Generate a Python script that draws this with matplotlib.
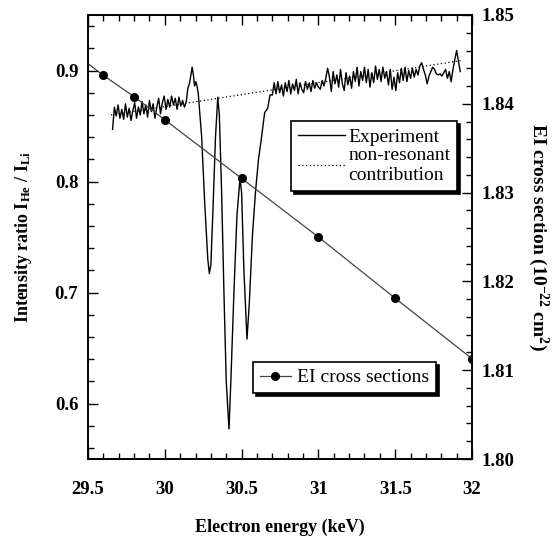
import numpy as np
import matplotlib
matplotlib.use("Agg")
import matplotlib.pyplot as plt
from matplotlib.ticker import MultipleLocator

plt.rcParams['font.family'] = ['Liberation Serif', 'DejaVu Serif']
plt.rcParams['mathtext.fontset'] = 'custom'
plt.rcParams['mathtext.rm'] = 'Liberation Serif:bold'
plt.rcParams['mathtext.it'] = 'Liberation Serif:italic:bold'
plt.rcParams['mathtext.bf'] = 'Liberation Serif:bold'

# ---- Experiment (intensity ratio) ----
exp_energy = [
    29.660, 29.672, 29.684, 29.696, 29.708, 29.720, 29.732, 29.744, 29.756, 29.768,
    29.780, 29.792, 29.804, 29.816, 29.828, 29.840, 29.852, 29.864, 29.876, 29.888,
    29.900, 29.912, 29.924, 29.936, 29.948, 29.960, 29.972, 29.984, 29.996, 30.008,
    30.020, 30.032, 30.044, 30.056, 30.068, 30.080, 30.092, 30.104, 30.116, 30.128,
    30.140, 30.150, 30.160, 30.170, 30.178, 30.186, 30.194, 30.202, 30.210, 30.218,
    30.240, 30.260, 30.280, 30.290, 30.300, 30.315, 30.330, 30.345, 30.355, 30.370,
    30.385, 30.400, 30.418, 30.430, 30.450, 30.470, 30.490, 30.500, 30.515, 30.535,
    30.550, 30.570, 30.590, 30.610, 30.630, 30.650, 30.670, 30.685,
    30.700, 30.712, 30.724, 30.736, 30.748, 30.760, 30.772, 30.784, 30.796, 30.808,
    30.820, 30.832, 30.844, 30.856, 30.868, 30.880, 30.892, 30.904, 30.916, 30.928,
    30.940, 30.952, 30.964, 30.976, 30.988, 31.000, 31.012, 31.024, 31.036, 31.048,
    31.060, 31.072, 31.084, 31.096, 31.108, 31.120, 31.132, 31.144, 31.156, 31.168,
    31.180, 31.192, 31.204, 31.216, 31.228, 31.240, 31.252, 31.264, 31.276, 31.288,
    31.300, 31.312, 31.324, 31.336, 31.348, 31.360, 31.372, 31.384, 31.396, 31.408,
    31.420, 31.432, 31.444, 31.456, 31.468, 31.480, 31.492, 31.504, 31.516, 31.528,
    31.540, 31.552, 31.564, 31.576, 31.588, 31.600, 31.612, 31.624, 31.636, 31.648,
    31.660, 31.672, 31.684, 31.696, 31.708, 31.720, 31.732, 31.744, 31.756, 31.768,
    31.780, 31.792, 31.804, 31.816, 31.828, 31.840, 31.852, 31.864, 31.876, 31.888,
    31.900, 31.912, 31.924,
]
exp_ratio = [
    0.847, 0.867, 0.859, 0.869, 0.857, 0.865, 0.856, 0.870, 0.858, 0.866,
    0.855, 0.864, 0.871, 0.857, 0.867, 0.860, 0.872, 0.861, 0.869, 0.858,
    0.873, 0.863, 0.870, 0.857, 0.867, 0.875, 0.861, 0.871, 0.877, 0.865,
    0.874, 0.867, 0.877, 0.869, 0.875, 0.865, 0.876, 0.868, 0.873, 0.867,
    0.872, 0.884, 0.888, 0.896, 0.903, 0.896, 0.886, 0.890, 0.886, 0.879,
    0.840, 0.780, 0.730, 0.717, 0.725, 0.780, 0.840, 0.876, 0.860, 0.790,
    0.700, 0.620, 0.577, 0.620, 0.700, 0.770, 0.803, 0.790, 0.720, 0.658,
    0.690, 0.750, 0.790, 0.820, 0.840, 0.862, 0.866, 0.878,
    0.878, 0.889, 0.879, 0.890, 0.880, 0.887, 0.877, 0.889, 0.881, 0.891,
    0.879, 0.888, 0.882, 0.892, 0.879, 0.889, 0.883, 0.880, 0.890, 0.883,
    0.889, 0.881, 0.891, 0.884, 0.889, 0.885, 0.883, 0.891, 0.886, 0.893,
    0.902, 0.894, 0.881, 0.899, 0.888, 0.896, 0.885, 0.901, 0.888, 0.882,
    0.898, 0.887, 0.895, 0.884, 0.899, 0.890, 0.903, 0.886, 0.899, 0.891,
    0.903, 0.889, 0.901, 0.885, 0.898, 0.889, 0.904, 0.892, 0.901, 0.890,
    0.903, 0.893, 0.899, 0.887, 0.901, 0.883, 0.894, 0.882, 0.898, 0.889,
    0.902, 0.891, 0.903, 0.890, 0.900, 0.893, 0.902, 0.894, 0.901, 0.896,
    0.904, 0.907, 0.901, 0.896, 0.888, 0.895, 0.899, 0.903, 0.901, 0.897,
    0.896, 0.897, 0.895, 0.898, 0.901, 0.893, 0.899, 0.890, 0.901, 0.910,
    0.918, 0.908, 0.899,
]

# ---- Non-resonant contribution ----
nonres_energy = [29.65, 31.93]
nonres_ratio = [0.860, 0.909]

# ---- EI cross sections ----
ei_energy = [29.6, 29.8, 30.0, 30.5, 31.0, 31.5, 32.0]
ei_xsec = [1.8432, 1.8408, 1.8382, 1.8316, 1.8250, 1.8181, 1.8113]

x_ticks = [29.5, 30, 30.5, 31, 31.5, 32]
x_ticklabels = ['29.5', '30', '30.5', '31', '31.5', '32']
left_ticks = [0.6, 0.7, 0.8, 0.9]
right_ticks = [1.80, 1.81, 1.82, 1.83, 1.84, 1.85]

fig = plt.figure(figsize=(5.54, 5.39), dpi=100)
ax1 = fig.add_axes([88/554, 1-459/539, 384/554, 444/539])
ax2 = ax1.twinx()

ax1.plot(exp_energy, exp_ratio, color='black', lw=1.0, label='Experiment')
ax1.plot(nonres_energy, nonres_ratio, color='black', lw=0.9, ls=(0, (1, 2)),
         label='non-resonant\ncontribution')

# EI line with an extension to the left edge from a linear fit of the points
fit = np.polyfit(ei_energy, ei_xsec, 1)
ext_x = [29.5, ei_energy[0]]
ax2.plot(ext_x, np.polyval(fit, ext_x) + (ei_xsec[0] - np.polyval(fit, ei_energy[0])),
         color='#444444', lw=0.9)
ax2.plot(ei_energy, ei_xsec, color='#444444', lw=0.9, marker='o', markersize=5.5,
         markerfacecolor='black', markeredgecolor='black', label='EI cross sections')

ax1.set_xlim(29.5, 32)
ax1.set_ylim(0.55, 0.95)
ax2.set_ylim(1.80, 1.85)

ax1.set_xticks(x_ticks)
ax1.set_xticklabels(x_ticklabels)
ax1.xaxis.set_minor_locator(MultipleLocator(0.1))
ax1.set_yticks(left_ticks)
ax1.set_yticklabels(['0.6', '0.7', '0.8', '0.9'])
ax1.yaxis.set_minor_locator(MultipleLocator(0.02))
ax2.set_yticks(right_ticks)
ax2.set_yticklabels(['1.80', '1.81', '1.82', '1.83', '1.84', '1.85'])
ax2.yaxis.set_minor_locator(MultipleLocator(0.002))

for ax in (ax1, ax2):
    for s in ax.spines.values():
        s.set_linewidth(1.2)
ax1.tick_params(axis='x', which='both', direction='in', top=True, bottom=True, pad=16)
ax1.tick_params(axis='y', which='both', direction='in', left=True, right=False, pad=7)
ax2.tick_params(axis='y', which='both', direction='in', right=True, left=False, pad=7)
for ax in (ax1, ax2):
    ax.tick_params(which='major', length=7, width=1)
    ax.tick_params(which='minor', length=4, width=1)
    for lab in ax.get_xticklabels() + ax.get_yticklabels():
        lab.set_fontsize(13.5)
        lab.set_fontweight('bold')

ax1.set_xlabel('Electron energy (keV)', fontsize=13, fontweight='bold', labelpad=15)
ax1.set_ylabel(r'Intensity ratio I$_{\mathrm{He}}$ / I$_{\mathrm{Li}}$', fontsize=13,
               fontweight='bold', labelpad=15)
ax2.set_ylabel(r'EI cross section (10$^{\mathrm{-22}}$ cm$^{\mathrm{2}}$)', fontsize=14,
               fontweight='bold', rotation=270, labelpad=26)

leg1 = ax1.legend(loc='upper left', bbox_to_anchor=(0.529, 0.761), borderaxespad=0,
                  fontsize=14, frameon=True, fancybox=False, framealpha=1,
                  edgecolor='black', handlelength=2.4, handletextpad=0.2,
                  borderpad=0.35, labelspacing=0.1,
                  shadow={'color': 'black', 'alpha': 1})
leg1.get_frame().set_linewidth(1.2)
leg2 = ax2.legend(loc='upper left', bbox_to_anchor=(0.43, 0.2185), borderaxespad=0,
                  fontsize=14, frameon=True, fancybox=False, framealpha=1,
                  edgecolor='black', handlelength=1.6, handletextpad=0.3,
                  borderpad=0.35, shadow={'color': 'black', 'alpha': 1})
leg2.get_frame().set_linewidth(1.2)

fig.savefig('out.png', dpi=100)
